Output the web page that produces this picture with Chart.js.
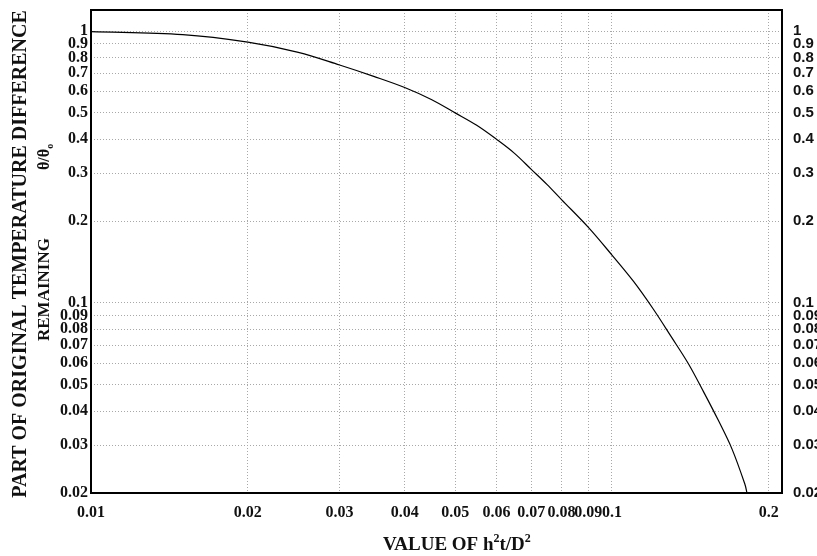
<!DOCTYPE html>
<html>
<head>
<meta charset="utf-8">
<script src="https://cdn.jsdelivr.net/npm/chart.js@4"></script>
<style>
  html, body { margin: 0; padding: 0; background: #fff; }
  #wrap { width: 817px; height: 556px; }
</style>
</head>
<body>
<div id="wrap"><canvas id="chart" width="817" height="556"></canvas></div>
<script>
// Curve: h^2 t / D^2 against theta/theta0
const xValues = [0.01, 0.015, 0.02, 0.025, 0.03, 0.035, 0.04, 0.045, 0.05, 0.055, 0.06, 0.065,
  0.07, 0.075, 0.08, 0.09, 0.1, 0.11, 0.12, 0.13, 0.14, 0.15, 0.16, 0.17, 0.18, 0.1816];
const yValues = [0.995, 0.97, 0.91, 0.835, 0.75, 0.68, 0.62, 0.56, 0.5, 0.45, 0.4, 0.355,
  0.31, 0.273, 0.24, 0.19, 0.15, 0.12, 0.095, 0.075, 0.06, 0.047, 0.037, 0.029, 0.0215, 0.02];

// Tick positions and labels
const xTicks = [0.01, 0.02, 0.03, 0.04, 0.05, 0.06, 0.07, 0.08, 0.09, 0.1, 0.2];
const xTickLabels = ['0.01', '0.02', '0.03', '0.04', '0.05', '0.06', '0.07', '0.08', '0.09', '0.1', '0.2'];
const yTicks = [0.02, 0.03, 0.04, 0.05, 0.06, 0.07, 0.08, 0.09, 0.1, 0.2, 0.3, 0.4, 0.5, 0.6, 0.7, 0.8, 0.9, 1];
const yTickLabels = ['0.02', '0.03', '0.04', '0.05', '0.06', '0.07', '0.08', '0.09', '0.1',
  '0.2', '0.3', '0.4', '0.5', '0.6', '0.7', '0.8', '0.9', '1'];

const SERIF = '"Liberation Serif", "Times New Roman", serif';
const SANS = '"Liberation Sans", Arial, sans-serif';

const points = xValues.map((x, i) => ({ x, y: yValues[i] }));

// Draws the solid frame and the axis titles (with super/subscripts)
const framePlugin = {
  id: 'frameAndTitles',
  afterDraw(chart) {
    const { ctx, chartArea: a } = chart;
    ctx.save();
    ctx.strokeStyle = '#000';
    ctx.lineWidth = 2;
    ctx.strokeRect(a.left, a.top, a.right - a.left, a.bottom - a.top);

    ctx.fillStyle = '#111';
    ctx.textBaseline = 'alphabetic';

    // x title: VALUE OF h²t/D²
    const big = 'bold 19px ' + SERIF;
    const small = 'bold 12px ' + SERIF;
    const parts = [['VALUE OF h', big, 0], ['2', small, -8], ['t/D', big, 0], ['2', small, -8]];
    let x = 383;
    parts.forEach(p => {
      ctx.font = p[1];
      ctx.fillText(p[0], x, 550 + p[2]);
      x += ctx.measureText(p[0]).width;
    });

    // y title, two rotated lines
    ctx.rotate(-Math.PI / 2);
    ctx.font = 'bold 20px ' + SERIF;
    ctx.textAlign = 'center';
    ctx.fillText('PART OF ORIGINAL TEMPERATURE DIFFERENCE', -254, 26);

    ctx.textAlign = 'left';
    ctx.font = 'bold 17px ' + SERIF;
    ctx.fillText('REMAINING', -341, 49);
    ctx.font = 'bold 16px ' + SERIF;
    const th = '\u03B8/\u03B8';
    ctx.fillText(th, -170, 49);
    const w = ctx.measureText(th).width;
    ctx.font = 'bold 10px ' + SERIF;
    ctx.fillText('o', -170 + w, 53);
    ctx.restore();
  }
};

const gridDash = [1, 2];

// fixed axis sizes so the plot box sits where it does in the picture
function fitY(width) {
  return (s) => { s.width = width; s.paddingTop = 0; s.paddingBottom = 0; };
}

new Chart(document.getElementById('chart'), {
  type: 'line',
  data: {
    datasets: [{
      data: points,
      borderColor: '#000',
      borderWidth: 1.2,
      pointRadius: 0,
      fill: false,
      tension: 0.35
    }]
  },
  options: {
    responsive: false,
    animation: false,
    events: [],
    layout: { padding: { top: 10, left: 0, right: 0, bottom: 0 } },
    plugins: {
      legend: { display: false },
      tooltip: { enabled: false }
    },
    scales: {
      x: {
        type: 'logarithmic',
        position: 'bottom',
        min: 0.01,
        max: 0.212,
        bounds: 'data',
        afterBuildTicks: (s) => { s.ticks = xTicks.map(v => ({ value: v })); },
        afterFit: (s) => { s.height = 63; s.paddingLeft = 0; s.paddingRight = 0; },
        grid: { color: '#a8a8a8', lineWidth: 1, drawTicks: false },
        border: { display: false, dash: gridDash },
        ticks: {
          autoSkip: false,
          maxRotation: 0,
          minRotation: 0,
          padding: 10,
          color: '#111',
          font: { family: SERIF, size: 16, weight: 'bold' },
          callback: (v, i) => xTickLabels[i]
        }
      },
      y: {
        type: 'logarithmic',
        position: 'left',
        min: 0.02,
        max: 1.195,
        bounds: 'data',
        afterBuildTicks: (s) => { s.ticks = yTicks.map(v => ({ value: v })); },
        afterFit: fitY(91),
        grid: { color: '#a8a8a8', lineWidth: 1, drawTicks: false },
        border: { display: false, dash: gridDash },
        ticks: {
          autoSkip: false,
          padding: 3,
          color: '#111',
          font: { family: SERIF, size: 16, weight: 'bold', lineHeight: 1 },
          callback: (v, i) => yTickLabels[i]
        }
      },
      y2: {
        type: 'logarithmic',
        position: 'right',
        min: 0.02,
        max: 1.195,
        bounds: 'data',
        afterBuildTicks: (s) => { s.ticks = yTicks.map(v => ({ value: v })); },
        afterFit: fitY(35),
        grid: { display: false, drawOnChartArea: false, drawTicks: false },
        border: { display: false },
        ticks: {
          autoSkip: false,
          padding: 11,
          color: '#111',
          font: { family: SANS, size: 15, weight: 'bold', lineHeight: 1 },
          callback: (v, i) => yTickLabels[i]
        }
      }
    }
  },
  plugins: [framePlugin]
});
</script>
</body>
</html>
